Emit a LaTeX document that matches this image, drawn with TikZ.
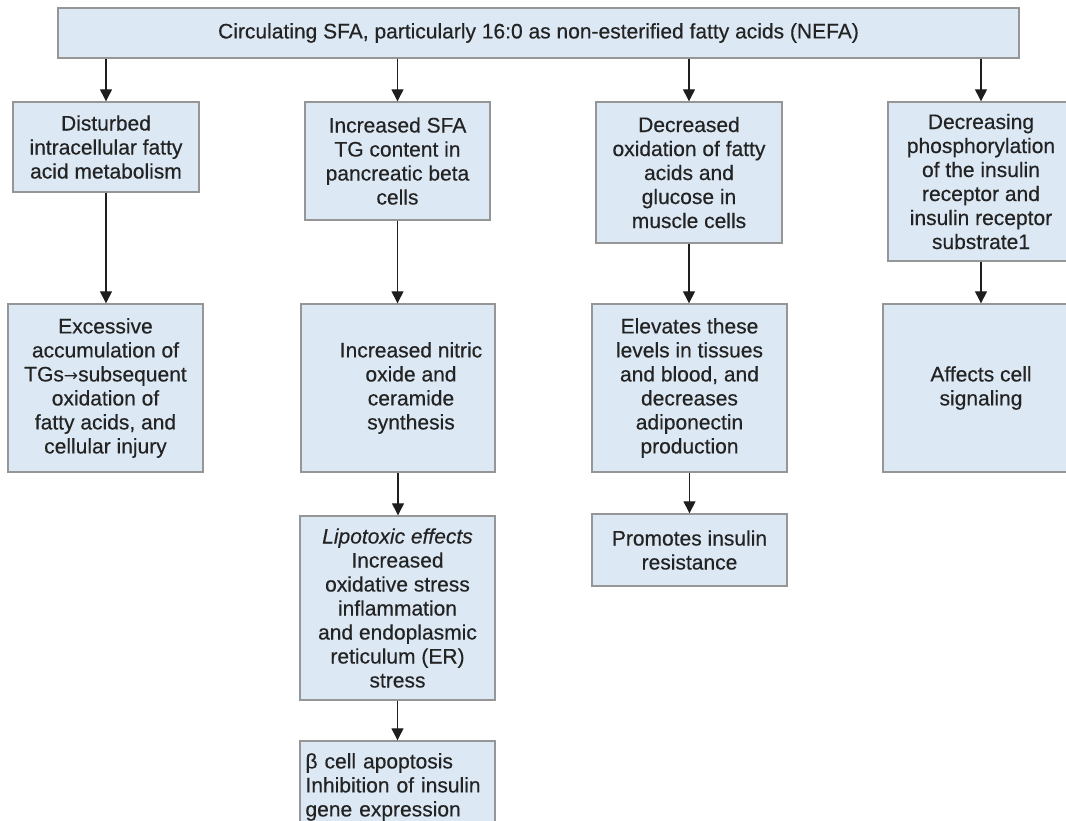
\documentclass[tikz,border=0pt]{standalone}
\usepackage{fontspec}
\setmainfont{Liberation Sans}[FakeBold=0.4]
\newfontfamily\symfnt{DejaVu Sans}
\usetikzlibrary{arrows.meta}
\definecolor{boxfill}{RGB}{220,232,244}
\definecolor{boxline}{RGB}{150,150,150}
\definecolor{txtcol}{RGB}{35,35,35}
\definecolor{arrcol}{RGB}{30,30,30}
\tikzset{
  box/.style={draw=boxline, line width=1.4pt, fill=boxfill, inner sep=0pt,
    text=txtcol, align=center, font=\fontsize{21}{24}\selectfont},
  conn/.style={draw=arrcol, line width=1.3pt,
    -{Triangle[length=12pt,width=12pt]}}
}
\begin{document}
\begin{tikzpicture}[x=1pt,y=-1pt]
\useasboundingbox (0,0) rectangle (1066,820);
\begin{scope}
\clip (0,0) rectangle (1066,820);
\node[box, minimum width=961, minimum height=50] (top) at (538.5,33)
  {Circulating SFA, particularly 16:0 as non-esterified fatty acids (NEFA)};
% row 1
\node[box, minimum width=186, minimum height=90] (b1) at (106,147)
  {Disturbed\\intracellular fatty\\acid metabolism};
\node[box, minimum width=185, minimum height=118] (b2) at (397.5,161)
  {Increased SFA\\TG content in\\pancreatic beta\\cells};
\node[box, minimum width=186, minimum height=141] (b3) at (689,172.5)
  {Decreased\\oxidation of fatty\\acids and\\glucose in\\muscle cells};
\node[box, minimum width=186, minimum height=159] (b4) at (981,181.5)
  {Decreasing\\phosphorylation\\of the insulin\\receptor and\\insulin receptor\\substrate1};
% row 2
\node[box, minimum width=195, minimum height=168] (b1b) at (105.5,388)
  {Excessive\\accumulation of\\TGs{\symfnt\fontsize{17}{24}\selectfont →}subsequent\\oxidation of\\fatty acids, and\\cellular injury};
\node[box, minimum width=194, minimum height=168] (b2b) at (398,388) {};
\node[text=txtcol, align=center, font=\fontsize{21}{24}\selectfont, inner sep=0pt] (b2bt) at (411,388)
  {Increased nitric\\oxide and\\ceramide\\synthesis};
\node[box, minimum width=195, minimum height=168] (b3b) at (689.5,388)
  {Elevates these\\levels in tissues\\and blood, and\\decreases\\adiponectin\\production};
\node[box, minimum width=196, minimum height=168] (b4b) at (981,388)
  {Affects cell\\signaling};
% row 3
\node[box, minimum width=195, minimum height=184] (b2c) at (397.5,608)
  {\textit{Lipotoxic effects}\\Increased\\oxidative stress\\inflammation\\and endoplasmic\\reticulum (ER)\\stress};
\node[box, minimum width=195, minimum height=72] (b3c) at (689.5,550)
  {Promotes insulin\\resistance};
% row 4
\node[box, minimum width=195, minimum height=92, text width=184, align=left] (b2d) at (397.5,787)
  {β cell apoptosis\\Inhibition of insulin\\gene expression};
% connectors
\draw[conn] (top.south -| b1.north) -- (b1.north);
\draw[conn] (top.south -| b2.north) -- (b2.north);
\draw[conn] (top.south -| b3.north) -- (b3.north);
\draw[conn] (top.south -| b4.north) -- (b4.north);
\draw[conn] (b1.south) -- (b1.south |- b1b.north);
\draw[conn] (b2.south) -- (b2.south |- b2b.north);
\draw[conn] (b3.south) -- (b3.south |- b3b.north);
\draw[conn] (b4.south) -- (b4.south |- b4b.north);
\draw[conn] (b2b.south) -- (b2b.south |- b2c.north);
\draw[conn] (b3b.south) -- (b3b.south |- b3c.north);
\draw[conn] (b2c.south) -- (b2c.south |- b2d.north);
\end{scope}
\end{tikzpicture}
\end{document}
